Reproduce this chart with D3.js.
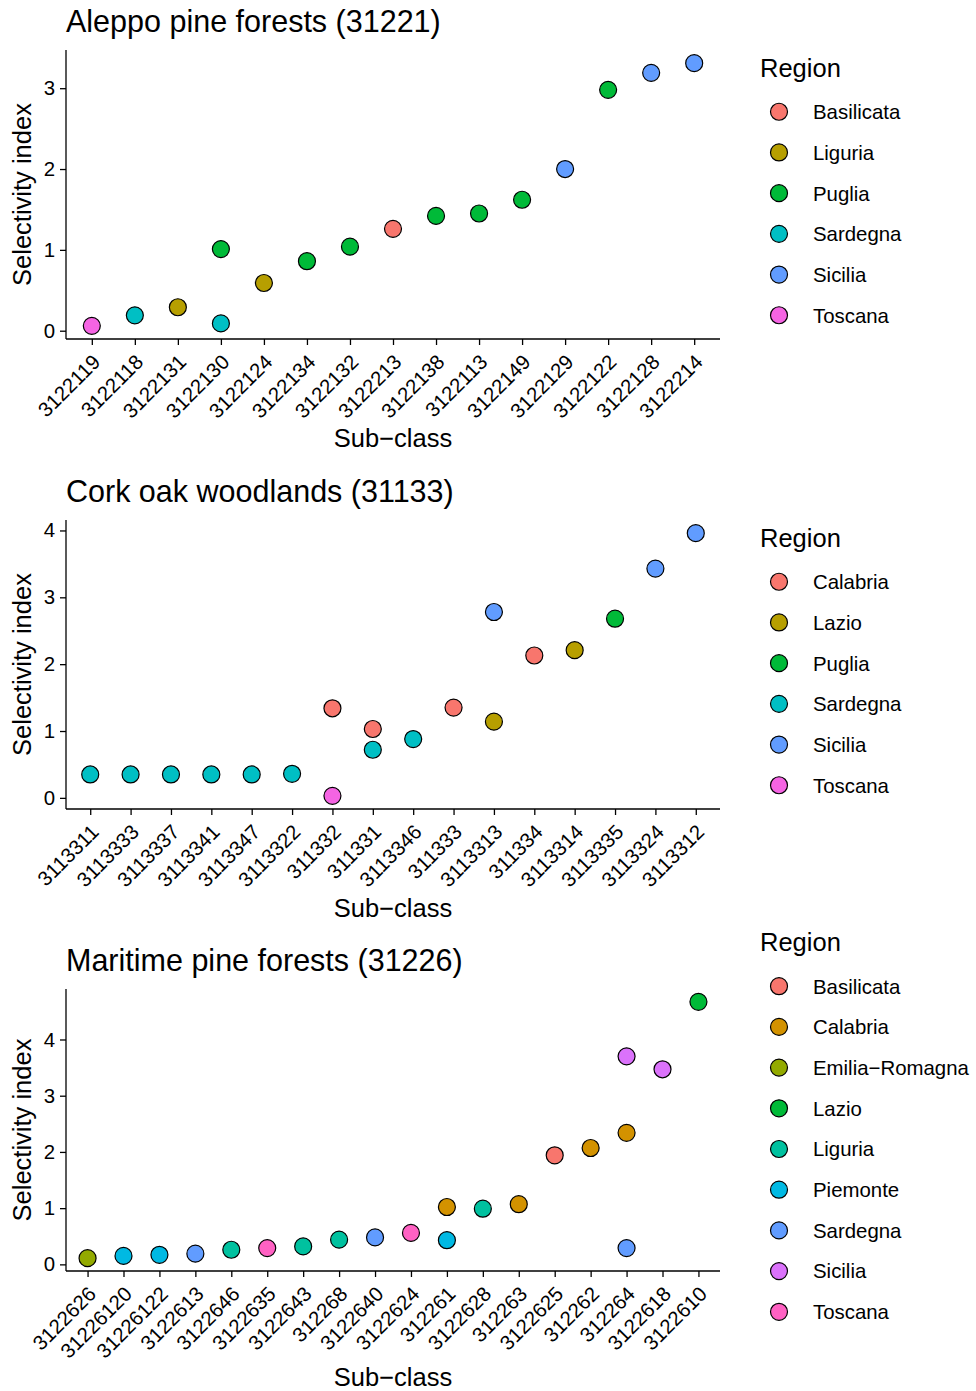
<!DOCTYPE html>
<html>
<head>
<meta charset="utf-8">
<script src="https://cdn.jsdelivr.net/npm/d3@7"></script>
<style>
  body { margin: 0; background: #fff; }
  text { font-family: "Liberation Sans", Arial, sans-serif; fill: #000; }
</style>
</head>
<body>
<div id="chart"></div>
<script>
// Aleppo pine forests (31221)
const aleppoCats = ["3122119", "3122118", "3122131", "3122130", "3122124", "3122134", "3122132", "3122213",
  "3122138", "3122113", "3122149", "3122129", "3122122", "3122128", "3122214"];
const aleppoRegions = ["Basilicata", "Liguria", "Puglia", "Sardegna", "Sicilia", "Toscana"];
const aleppoSub = ["3122119", "3122118", "3122131", "3122130", "3122130", "3122124", "3122134", "3122132", "3122213",
  "3122138", "3122113", "3122149", "3122129", "3122122", "3122128", "3122214"];
const aleppoReg = ["Toscana", "Sardegna", "Liguria", "Puglia", "Sardegna", "Liguria", "Puglia", "Puglia", "Basilicata",
  "Puglia", "Puglia", "Puglia", "Sicilia", "Puglia", "Sicilia", "Sicilia"];
const aleppoSI = [0.06, 0.19, 0.29, 1.01, 0.09, 0.59, 0.86, 1.04, 1.26, 1.42, 1.45, 1.62, 2.0, 2.98, 3.19, 3.31];

// Cork oak woodlands (31133)
const corkCats = ["3113311", "3113333", "3113337", "3113341", "3113347", "3113322", "311332", "311331",
  "3113346", "311333", "3113313", "311334", "3113314", "3113335", "3113324", "3113312"];
const corkRegions = ["Calabria", "Lazio", "Puglia", "Sardegna", "Sicilia", "Toscana"];
const corkSub = ["3113311", "3113333", "3113337", "3113341", "3113347", "3113322", "311332", "311332", "311331", "311331",
  "3113346", "311333", "3113313", "3113313", "311334", "3113314", "3113335", "3113324", "3113312"];
const corkReg = ["Sardegna", "Sardegna", "Sardegna", "Sardegna", "Sardegna", "Sardegna", "Calabria", "Toscana", "Calabria", "Sardegna",
  "Sardegna", "Calabria", "Sicilia", "Lazio", "Calabria", "Lazio", "Puglia", "Sicilia", "Sicilia"];
const corkSI = [0.35, 0.35, 0.35, 0.35, 0.35, 0.36, 1.34, 0.03, 1.03, 0.72,
  0.88, 1.35, 2.78, 1.14, 2.13, 2.21, 2.68, 3.43, 3.96];

// Maritime pine forests (31226)
const maritimeCats = ["3122626", "31226120", "31226122", "3122613", "3122646", "3122635", "3122643", "312268", "3122640",
  "3122624", "312261", "3122628", "312263", "3122625", "312262", "312264", "3122618", "3122610"];
const maritimeRegions = ["Basilicata", "Calabria", "Emilia\u2212Romagna", "Lazio", "Liguria", "Piemonte", "Sardegna", "Sicilia", "Toscana"];
const maritimeSub = ["3122626", "31226120", "31226122", "3122613", "3122646", "3122635", "3122643", "312268", "3122640",
  "3122624", "312261", "312261", "3122628", "312263", "3122625", "312262", "312264", "312264", "312264", "3122618", "3122610"];
const maritimeReg = ["Emilia\u2212Romagna", "Piemonte", "Piemonte", "Sardegna", "Liguria", "Toscana", "Liguria", "Liguria", "Sardegna",
  "Toscana", "Calabria", "Piemonte", "Liguria", "Calabria", "Basilicata", "Calabria", "Sicilia", "Calabria", "Sardegna", "Sicilia", "Lazio"];
const maritimeSI = [0.11, 0.15, 0.17, 0.19, 0.26, 0.29, 0.32, 0.44, 0.48,
  0.56, 1.02, 0.43, 0.99, 1.07, 1.94, 2.07, 3.70, 2.34, 0.29, 3.47, 4.67];

const yTicks = [0, 1, 2, 3, 4];

// ggplot2 hue palettes
const hue6 = ["#F8766D", "#B79F00", "#00BA38", "#00BFC4", "#619CFF", "#F564E3"];
const hue9 = ["#F8766D", "#D39200", "#93AA00", "#00BA38", "#00C19F", "#00B9E3", "#619CFF", "#DB72FB", "#FF61C3"];

const panels = [
  { title: "Aleppo pine forests (31221)", cats: aleppoCats, regions: aleppoRegions, sub: aleppoSub, reg: aleppoReg, si: aleppoSI, pal: hue6, top: 0, plotBottom: 339 },
  { title: "Cork oak woodlands (31133)", cats: corkCats, regions: corkRegions, sub: corkSub, reg: corkReg, si: corkSI, pal: hue6, top: 470, plotBottom: 339 },
  { title: "Maritime pine forests (31226)", cats: maritimeCats, regions: maritimeRegions, sub: maritimeSub, reg: maritimeReg, si: maritimeSI, pal: hue9, top: 939, plotBottom: 332 }
];

const width = 976, height = 1391;
const left = 66, right = 720, plotTop = 50;
const r = 8.5, tickLen = 6;

const svg = d3.select("#chart").append("svg")
  .attr("width", width)
  .attr("height", height);

panels.forEach(function (p) {
  const g = svg.append("g").attr("transform", "translate(0," + p.top + ")");

  // x: discrete scale with 0.6 expansion like ggplot
  const n = p.cats.length;
  const xLin = d3.scaleLinear().domain([0.4, n + 0.6]).range([left, right]);
  const x = function (c) { return xLin(p.cats.indexOf(c) + 1); };

  const ext = d3.extent(p.si);
  const pad = (ext[1] - ext[0]) * 0.05;
  const y = d3.scaleLinear().domain([ext[0] - pad, ext[1] + pad]).range([p.plotBottom, plotTop]);
  const color = d3.scaleOrdinal().domain(p.regions).range(p.pal);

  // title
  g.append("text")
    .attr("x", left)
    .attr("y", 32)
    .style("font-size", "30.5px")
    .text(p.title);

  // y axis
  const yAxis = g.append("g")
    .attr("transform", "translate(" + left + ",0)")
    .call(d3.axisLeft(y).tickValues(yTicks.filter(t => t <= y.domain()[1])).tickSize(tickLen).tickPadding(5).tickFormat(d3.format("d")));
  yAxis.selectAll("text").style("font-size", "20.4px").attr("fill", "#000");

  // x axis
  const xAxis = g.append("g")
    .attr("transform", "translate(0," + p.plotBottom + ")")
    .call(d3.axisBottom(d3.scalePoint().domain(p.cats).range([x(p.cats[0]), x(p.cats[n - 1])])).tickSize(tickLen).tickPadding(4));
  xAxis.selectAll("text")
    .style("font-size", "20.4px")
    .attr("fill", "#000")
    .attr("text-anchor", "end")
    .attr("transform", "translate(-6.5,8.5) rotate(-45)")
    .attr("dy", "0.75em")
    .attr("y", 7);

  [yAxis, xAxis].forEach(function (a) {
    a.select(".domain").attr("stroke", "#000").attr("stroke-width", 1.3);
    a.selectAll(".tick line").attr("stroke", "#000").attr("stroke-width", 1.3);
  });
  xAxis.select(".domain").attr("d", "M" + left + ",0H" + right);
  yAxis.select(".domain").attr("d", "M0," + p.plotBottom + "V" + plotTop);

  // axis titles
  g.append("text")
    .attr("transform", "translate(31," + ((plotTop + p.plotBottom) / 2) + ") rotate(-90)")
    .attr("text-anchor", "middle")
    .style("font-size", "25.5px")
    .text("Selectivity index");
  g.append("text")
    .attr("x", (left + right) / 2)
    .attr("y", 447)
    .attr("text-anchor", "middle")
    .style("font-size", "25.5px")
    .text("Sub\u2212class");

  // points
  g.selectAll("circle.pt")
    .data(p.si.map((v, i) => ({ sub: p.sub[i], reg: p.reg[i], v: v })))
    .enter()
    .append("circle")
    .attr("class", "pt")
    .attr("cx", d => x(d.sub))
    .attr("cy", d => y(d.v))
    .attr("r", r)
    .attr("fill", d => color(d.reg))
    .attr("stroke", "#000")
    .attr("stroke-width", 1.2);

  // legend
  const step = 40.7;
  const keysMid = (plotTop + p.plotBottom) / 2 + 19;
  const key0 = keysMid - (p.regions.length - 1) * step / 2;
  const lg = g.append("g");
  lg.append("text")
    .attr("x", 760)
    .attr("y", key0 - 44 + 9)
    .style("font-size", "25.5px")
    .text("Region");
  const item = lg.selectAll("g.key")
    .data(p.regions)
    .enter()
    .append("g")
    .attr("class", "key")
    .attr("transform", (d, i) => "translate(0," + (key0 + i * step) + ")");
  item.append("circle")
    .attr("cx", 779)
    .attr("r", r)
    .attr("fill", d => color(d))
    .attr("stroke", "#000")
    .attr("stroke-width", 1.2);
  item.append("text")
    .attr("x", 813)
    .attr("dy", "0.36em")
    .style("font-size", "20.4px")
    .text(d => d);
});
</script>
</body>
</html>
